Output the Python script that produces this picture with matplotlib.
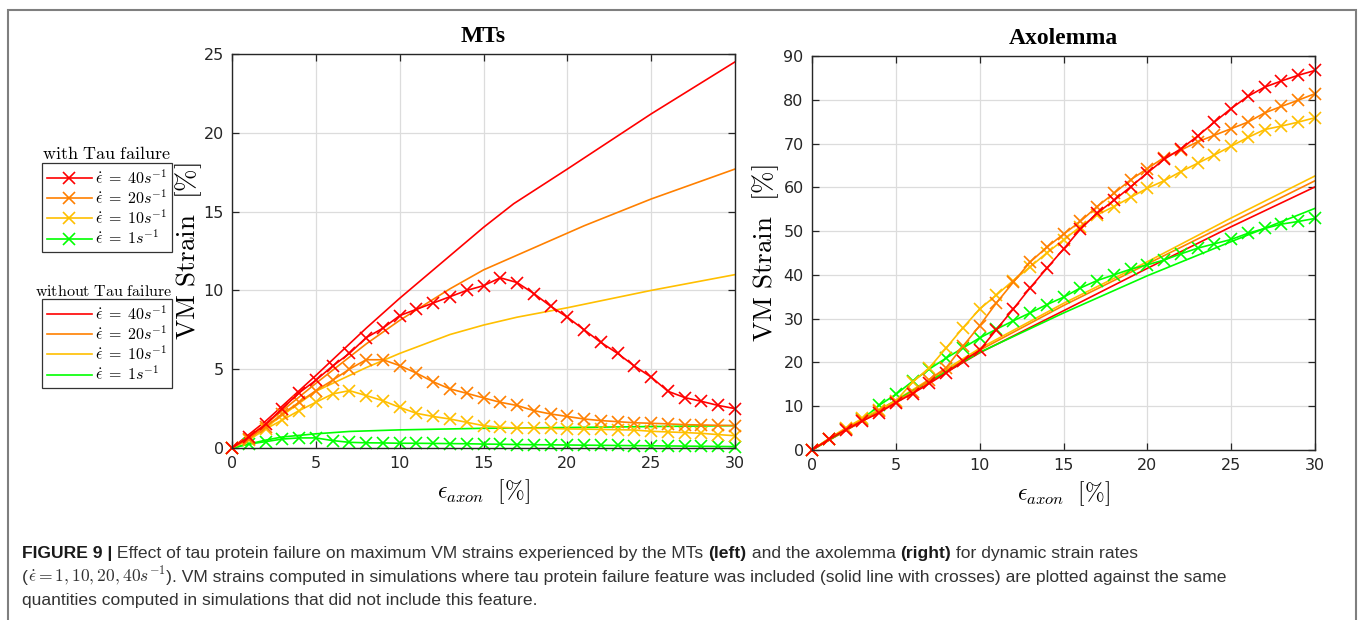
import matplotlib
matplotlib.use("Agg")
from matplotlib import pyplot as plt
from matplotlib.lines import Line2D
from matplotlib.patches import Rectangle
import numpy as np

plt.rcParams['mathtext.fontset'] = 'cm'

# ---- data ----
x_steps = np.arange(0, 31)
rate_labels = [r'$\dot{\epsilon}\;=\;40s^{-1}$', r'$\dot{\epsilon}\;=\;20s^{-1}$',
               r'$\dot{\epsilon}\;=\;10s^{-1}$', r'$\dot{\epsilon}\;=\;1s^{-1}$']
colors = ['#ff0000', '#ff8000', '#ffbf00', '#00ff00']

# MTs, with tau failure (markers at every step)
mts_tau_40 = [0, 0.7, 1.5, 2.5, 3.5, 4.3, 5.2, 6.0, 7.0, 7.6, 8.4, 8.8, 9.2, 9.6, 10.0, 10.3,
              10.8, 10.5, 9.8, 9.0, 8.3, 7.5, 6.7, 6.0, 5.2, 4.5, 3.6, 3.2, 2.96, 2.7, 2.5]
mts_tau_20 = [0, 0.6, 1.35, 2.16, 2.9, 3.64, 4.3, 5.0, 5.6, 5.6, 5.23, 4.75, 4.2, 3.75, 3.47, 3.18,
              2.9, 2.7, 2.37, 2.16, 2.0, 1.84, 1.74, 1.67, 1.6, 1.57, 1.53, 1.48, 1.46, 1.44, 1.42]
mts_tau_10 = [0, 0.5, 1.2, 1.78, 2.37, 2.9, 3.43, 3.64, 3.33, 3.0, 2.58, 2.2, 2.0, 1.84, 1.63, 1.42,
              1.31, 1.27, 1.25, 1.24, 1.21, 1.2, 1.18, 1.16, 1.14, 1.06, 1.02, 0.98, 0.93, 0.85, 0.78]
mts_tau_1 = [0, 0.25, 0.4, 0.57, 0.64, 0.64, 0.47, 0.36, 0.33, 0.32, 0.3, 0.3, 0.29, 0.28, 0.27, 0.25,
             0.24, 0.22, 0.21, 0.2, 0.19, 0.18, 0.17, 0.16, 0.15, 0.14, 0.13, 0.12, 0.11, 0.1, 0.09]

# MTs, without tau failure
mts_x_40 = [0, 2, 5, 8, 10, 15, 16.8, 20, 25, 30]
mts_no_40 = [0, 1.7, 4.6, 7.6, 9.5, 14.0, 15.5, 17.7, 21.2, 24.5]
mts_x_20 = [0, 2, 5, 8, 10, 13, 15, 21, 25, 30]
mts_no_20 = [0, 1.5, 4.1, 6.6, 8.1, 10.1, 11.3, 14.1, 15.8, 17.7]
mts_x_10 = [0, 2, 5, 8, 10, 11, 13, 15, 17, 20, 25, 30]
mts_no_10 = [0, 1.3, 3.6, 5.1, 6.0, 6.4, 7.2, 7.8, 8.3, 8.9, 10.0, 11.0]
mts_x_1 = [0, 1, 2, 3, 5, 7, 10, 15, 20, 25, 30]
mts_no_1 = [0, 0.25, 0.5, 0.7, 0.9, 1.05, 1.15, 1.25, 1.3, 1.36, 1.42]

# Axolemma, with tau failure
axo_tau_40 = [0, 2.4, 4.6, 6.6, 8.5, 10.8, 12.9, 15.2, 17.6, 20.3, 22.8, 27.5, 32.2, 37.0, 41.5, 45.9,
              50.4, 54.1, 57.0, 60.1, 63.3, 66.4, 68.8, 71.7, 74.9, 78.0, 80.8, 82.9, 84.3, 85.6, 86.7]
axo_tau_20 = [0, 2.5, 4.8, 6.8, 8.8, 11.0, 13.3, 16.1, 18.8, 23.7, 28.4, 33.6, 38.3, 42.9, 46.3, 49.3,
              52.2, 55.6, 58.6, 61.7, 64.3, 66.8, 68.5, 70.4, 71.9, 73.4, 74.9, 77.0, 78.5, 79.9, 81.4]
axo_tau_10 = [0, 2.6, 5.0, 7.2, 9.2, 11.2, 15.5, 18.8, 23.3, 27.9, 32.2, 35.4, 38.7, 41.8, 45.0, 48.0,
              51.0, 53.7, 55.6, 57.7, 59.8, 61.5, 63.6, 65.5, 67.4, 69.4, 71.4, 73.2, 74.0, 74.9, 75.9]
axo_tau_1 = [0, 2.5, 4.8, 7.0, 10.2, 12.7, 15.7, 18.5, 21.0, 23.3, 25.6, 27.6, 29.5, 31.3, 33.2, 34.9,
             37.0, 38.7, 40.0, 41.3, 42.3, 43.4, 44.8, 46.1, 47.1, 48.1, 49.5, 50.6, 51.6, 52.2, 52.9]

# Axolemma, without tau failure
axo_x = [0, 5, 10, 15, 20, 25, 30]
axo_no_40 = [0, 11.0, 22.2, 31.8, 41.5, 51.0, 60.1]
axo_no_20 = [0, 11.2, 22.8, 33.0, 42.5, 52.0, 61.5]
axo_no_10 = [0, 11.4, 23.2, 33.5, 43.0, 53.0, 62.6]
axo_no_1 = [0, 11.3, 22.3, 31.3, 39.8, 47.6, 55.2]

fig = plt.figure(figsize=(13.6, 6.2), dpi=100)

# outer frame of the figure panel
fig.patches.append(Rectangle((8 / 1360, -0.05), 1348 / 1360, 1.05 - 10 / 620,
                             transform=fig.transFigure, fill=False,
                             edgecolor='#7f7f7f', lw=1.5))

ax1 = fig.add_axes([232 / 1360, (620 - 448) / 620, 503 / 1360, 394 / 620])
ax2 = fig.add_axes([812 / 1360, (620 - 450) / 620, 503 / 1360, 394 / 620])

lw = 1.2
ms = 8
mts_tau = [mts_tau_40, mts_tau_20, mts_tau_10, mts_tau_1]
mts_no = [(mts_x_40, mts_no_40), (mts_x_20, mts_no_20), (mts_x_10, mts_no_10), (mts_x_1, mts_no_1)]
for c, (xx, yy) in zip(colors, mts_no):
    ax1.plot(xx, yy, color=c, lw=lw, clip_on=False)
for c, yy in zip(colors[::-1], mts_tau[::-1]):
    ax1.plot(x_steps, yy, color=c, lw=lw, marker='x', ms=ms, mew=1.2, clip_on=False)

axo_tau = [axo_tau_40, axo_tau_20, axo_tau_10, axo_tau_1]
axo_no = [axo_no_40, axo_no_20, axo_no_10, axo_no_1]
for c, yy in zip(colors, axo_no):
    ax2.plot(axo_x, yy, color=c, lw=lw, clip_on=False)
for c, yy in zip(colors[::-1], axo_tau[::-1]):
    ax2.plot(x_steps, yy, color=c, lw=lw, marker='x', ms=ms, mew=1.2, clip_on=False)

for ax, ymax, ystep, title, ylab_x in [(ax1, 25, 5, 'MTs', -0.056),
                                       (ax2, 90, 10, 'Axolemma', -0.062)]:
    ax.set_xlim(0, 30)
    ax.set_ylim(0, ymax)
    ax.set_xticks(np.arange(0, 31, 5))
    ax.set_yticks(np.arange(0, ymax + 1, ystep))
    ax.grid(True, color='#dcdcdc', lw=0.9)
    ax.set_axisbelow(True)
    ax.tick_params(direction='in', top=True, right=True, length=5, width=0.9,
                   labelsize=11.5, labelcolor='#262626', color='#262626', pad=6)
    for s in ax.spines.values():
        s.set_color('#262626')
        s.set_linewidth(1.0)
    ax.set_title(title, fontsize=17, fontweight='bold', family='Liberation Serif', pad=9)
    ax.set_xlabel(r'$\epsilon_{axon}\ \ [\%]$', fontsize=17, labelpad=4)
    ax.set_ylabel(r'$\mathrm{VM\ Strain}\ \ [\%]$', fontsize=19.5)
    ax.yaxis.set_label_coords(ylab_x, 0.5)

# legends on the left
h_tau = [Line2D([], [], color=c, lw=lw, marker='x', ms=ms, mew=1.2) for c in colors]
h_no = [Line2D([], [], color=c, lw=lw) for c in colors]
leg_kw = dict(loc='upper left', fontsize=11.5, frameon=True, fancybox=False,
              edgecolor='black', handlelength=2.8, handletextpad=0.2,
              labelspacing=0.12, borderpad=0.3, borderaxespad=0)
leg1 = fig.legend(h_tau, rate_labels, bbox_to_anchor=(42 / 1360, 1 - 163 / 620), **leg_kw)
leg2 = fig.legend(h_no, rate_labels, bbox_to_anchor=(42 / 1360, 1 - 299 / 620), **leg_kw)
for lg in (leg1, leg2):
    lg.get_frame().set_linewidth(0.9)
fig.text(106 / 1360, 1 - 159 / 620, r'$\mathrm{with\ Tau\ failure}$', ha='center',
         va='baseline', fontsize=13)
fig.text(104 / 1360, 1 - 296 / 620, r'$\mathrm{without\ Tau\ failure}$', ha='center',
         va='baseline', fontsize=11.5)

# caption, drawn piece by piece so bold parts can be mixed in
cap_font = ['Liberation Sans Narrow', 'Liberation Sans']
cap_size = 12.6
renderer = fig.canvas.get_renderer()


def caption_line(y, pieces):
    x = 22 / 1360
    for s, kw in pieces:
        style = dict(fontsize=cap_size, family=cap_font, va='baseline', color='#333333')
        style.update(kw)
        t = fig.text(x, y, s, **style)
        x += t.get_window_extent(renderer).width / fig.bbox.width


bold = dict(fontweight='bold', color='#1a1a1a')
caption_line(1 - 558 / 620, [
    ('FIGURE 9 |', bold),
    (' Effect of tau protein failure on maximum VM strains experienced by the MTs ', {}),
    ('(left)', bold),
    (' and the axolemma ', {}),
    ('(right)', bold),
    (' for dynamic strain rates', {}),
])
caption_line(1 - 582 / 620, [
    ('(', {}),
    (r'$\dot{\epsilon} = 1, 10, 20, 40s^{-1}$', {}),
    ('). VM strains computed in simulations where tau protein failure feature was included '
     '(solid line with crosses) are plotted against the same', {}),
])
caption_line(1 - 605 / 620, [
    ('quantities computed in simulations that did not include this feature.', {}),
])

plt.savefig('out.png', dpi=100)
